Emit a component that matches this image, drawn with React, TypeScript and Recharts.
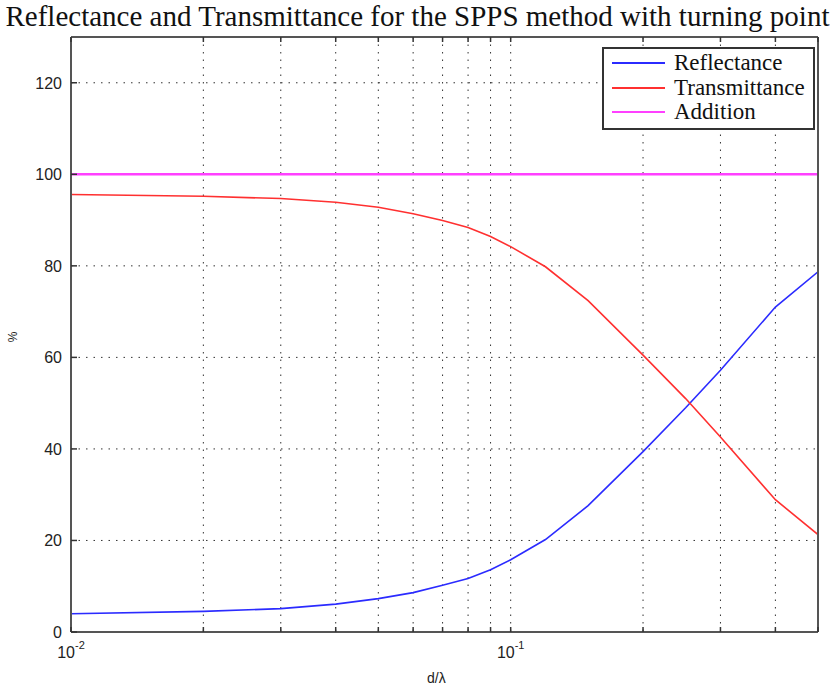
import React from 'react';
import { LineChart, Line, XAxis, YAxis, CartesianGrid, Legend } from 'recharts';

// values
const dOverLambda = [0.01, 0.02, 0.03, 0.04, 0.05, 0.06, 0.07, 0.08, 0.09, 0.1, 0.12, 0.15, 0.2, 0.25, 0.3, 0.4, 0.5];
const reflectance = [4.0, 4.5, 5.1, 6.1, 7.3, 8.6, 10.2, 11.7, 13.6, 15.8, 20.2, 27.6, 39.4, 49.0, 57.2, 71.0, 78.7];
const transmittance = [95.6, 95.2, 94.7, 93.9, 92.8, 91.4, 89.9, 88.4, 86.4, 84.2, 79.8, 72.4, 60.5, 51.0, 42.6, 28.9, 21.3];
const addition = [100, 100, 100, 100, 100, 100, 100, 100, 100, 100, 100, 100, 100, 100, 100, 100, 100];

const xTicks = [0.01, 0.02, 0.03, 0.04, 0.05, 0.06, 0.07, 0.08, 0.09, 0.1, 0.2, 0.3, 0.4, 0.5];
const xTickExponents: Record<string, string> = { '0.01': '-2', '0.1': '-1' };
const yTicks = [0, 20, 40, 60, 80, 100, 120];

const seriesInfo = [
  { key: 'reflectance', name: 'Reflectance', color: '#2b2bff' },
  { key: 'transmittance', name: 'Transmittance', color: '#ff3030' },
  { key: 'addition', name: 'Addition', color: '#ff40ff' },
];

const data = dOverLambda.map((d, i) => ({
  d,
  reflectance: reflectance[i],
  transmittance: transmittance[i],
  addition: addition[i],
}));

const AXIS = '#555';
const SANS = 'Arial, "Liberation Sans", sans-serif';
const SERIF = '"Liberation Serif", "Times New Roman", serif';

const BottomTick = (props: any) => {
  const { x, y, payload } = props;
  const exp = xTickExponents[String(payload.value)];
  return (
    <g>
      <line x1={x} y1={y} x2={x} y2={y - 5} stroke="#333" strokeWidth={1.5} />
      {exp && (
        <text x={x} y={y + 26} textAnchor="middle" fontSize={16} fill="#222" fontFamily={SANS}>
          <tspan>10</tspan>
          <tspan dy={-9} fontSize={11}>{exp}</tspan>
        </text>
      )}
    </g>
  );
};

const TopTick = (props: any) => {
  const { x, y } = props;
  return <line x1={x} y1={y} x2={x} y2={y + 5} stroke="#333" strokeWidth={1.5} />;
};

const LeftTick = (props: any) => {
  const { x, y, payload } = props;
  return (
    <g>
      <line x1={x} y1={y} x2={x + 6} y2={y} stroke="#333" strokeWidth={1.5} />
      <text x={x - 9} y={y + 6} textAnchor="end" fontSize={16} fill="#222" fontFamily={SANS}>
        {payload.value}
      </text>
    </g>
  );
};

const RightTick = (props: any) => {
  const { x, y } = props;
  return <line x1={x} y1={y} x2={x - 6} y2={y} stroke="#333" strokeWidth={1.5} />;
};

const LegendBox = () => (
  <div
    style={{
      border: '2px solid #333',
      background: '#fff',
      padding: '2px 8px 3px 8px',
      fontFamily: SERIF,
      fontSize: 23,
      lineHeight: '24.5px',
      color: '#111',
      whiteSpace: 'nowrap',
    }}
  >
    {seriesInfo.map(s => (
      <div key={s.key} style={{ display: 'flex', alignItems: 'center' }}>
        <span style={{ display: 'inline-block', width: 53, borderTop: `2px solid ${s.color}`, marginRight: 9 }} />
        {s.name}
      </div>
    ))}
  </div>
);

export default function App() {
  return (
    <div style={{ position: 'absolute', left: 0, top: 0, width: 835, height: 691, background: '#fff' }}>
      <div
        style={{
          position: 'absolute', left: 0, top: -1, width: 835, textAlign: 'center',
          fontFamily: SERIF, fontSize: 29, lineHeight: '34px', color: '#111', whiteSpace: 'nowrap',
        }}
      >
        Reflectance and Transmittance for the SPPS method with turning point
      </div>
      <div
        style={{
          position: 'absolute', left: 8, top: 330, fontFamily: SANS, fontSize: 12, color: '#222',
          transform: 'rotate(-90deg)',
        }}
      >
        %
      </div>
      <div style={{ position: 'absolute', left: 427, top: 670, fontFamily: SANS, fontSize: 14, color: '#222' }}>
        d/λ
      </div>
      <LineChart width={835} height={691} data={data} margin={{ top: 27, right: 7, bottom: 9, left: 8 }}>
        <CartesianGrid stroke="#333" strokeDasharray="1.5 6" strokeWidth={1} />
        <XAxis
          dataKey="d"
          type="number"
          scale="log"
          domain={[0.01, 0.5]}
          ticks={xTicks}
          allowDataOverflow
          height={50}
          tickSize={0}
          tickMargin={0}
          tick={BottomTick}
          axisLine={{ stroke: AXIS, strokeWidth: 2 }}
          interval={0}
        />
        <XAxis
          xAxisId="top"
          orientation="top"
          dataKey="d"
          type="number"
          scale="log"
          domain={[0.01, 0.5]}
          ticks={xTicks}
          allowDataOverflow
          height={10}
          tickSize={0}
          tickMargin={0}
          tick={TopTick}
          axisLine={{ stroke: AXIS, strokeWidth: 2 }}
          interval={0}
        />
        <YAxis
          type="number"
          domain={[0, 130]}
          ticks={yTicks}
          width={63}
          tickSize={0}
          tickMargin={0}
          tick={LeftTick}
          axisLine={{ stroke: AXIS, strokeWidth: 2 }}
          interval={0}
        />
        <YAxis
          yAxisId="right"
          orientation="right"
          type="number"
          domain={[0, 130]}
          ticks={yTicks}
          width={10}
          tickSize={0}
          tickMargin={0}
          tick={RightTick}
          axisLine={{ stroke: AXIS, strokeWidth: 2 }}
          interval={0}
        />
        <Legend
          layout="vertical"
          align="center"
          verticalAlign="middle"
          content={LegendBox}
          wrapperStyle={{ position: 'absolute', left: 602, top: 47, width: 'auto', height: 'auto' }}
        />
        {seriesInfo.map(s => (
          <Line
            key={s.key}
            type="linear"
            dataKey={s.key}
            name={s.name}
            stroke={s.color}
            strokeWidth={s.key === 'addition' ? 2.5 : 1.6}
            dot={false}
            isAnimationActive={false}
          />
        ))}
      </LineChart>
    </div>
  );
}
